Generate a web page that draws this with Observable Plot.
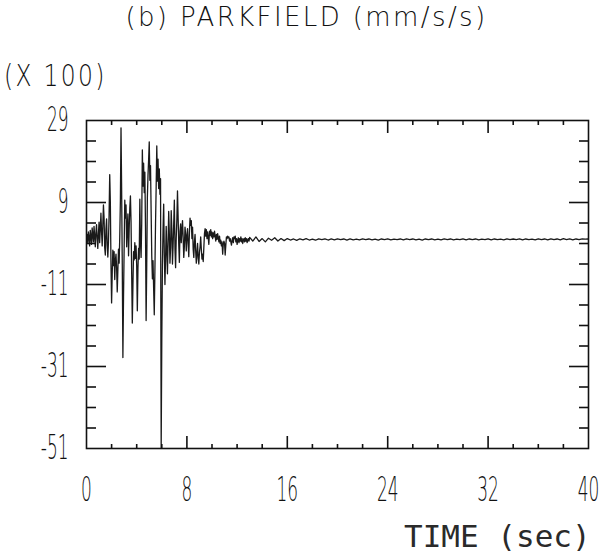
<!DOCTYPE html>
<html><head><meta charset="utf-8">
<script src="https://cdn.jsdelivr.net/npm/d3@7"></script>
<script src="https://cdn.jsdelivr.net/npm/@observablehq/plot@0.6"></script>
<style>
body{margin:0;background:#fff;}
#wrap{position:relative;width:613px;height:560px;overflow:hidden;background:#fff;}
#wrap svg{position:absolute;left:0;top:0;}
.t{position:absolute;white-space:nowrap;color:#111;}
#title{left:0;width:613px;text-align:center;top:2px;font:200 26px "DejaVu Sans";letter-spacing:2.4px;}
#unit{left:4px;top:58px;font:200 30px "DejaVu Sans";letter-spacing:3px;transform:scaleX(0.78);transform-origin:0 0;}
#xlab{left:404px;top:518px;font:400 31px "DejaVu Sans Mono";color:#2a2a2a;}
</style></head>
<body><div id="wrap">
<div class="t" id="title">(b) PARKFIELD (mm/s/s)</div>
<div class="t" id="unit">(X 100)</div>
<div class="t" id="xlab">TIME (sec)</div>
</div>
<script>
// acceleration (x 100 mm/s/s), sampled every 0.05 s from 0 to 12.95 s
const dt = 0.05;
const accelEarly = [
  0, 1.2, -0.8, 1.8, 0.4, -1.6, 2.2, 0.6, -1.2, 2.8, 1.0, -0.6, 3.2, 0.8, -1.8, 1.6, 3.6, 0.2, -2.2, 1.4,
  4.2, -0.8, 2.6, 6.4, 1.8, -1.6, 3.4, 8.4, 5.2, -2.0, -3.8, 2.4, 5.0, -1.4, -4.3, -0.6, 6.0, 15.8, 9.0, -6.0,
  -15.5, -8.2, -2.6, -6.4, -3.0, -9.8, -5.2, -3.6, -6.9, -12.8, -7.4, -2.4, -5.8, 0.6, 9.4, 27.2, 12.0, -6.0, -28.8, -14.0,
  -2.2, 9.6, 5.2, 8.4, -1.8, 3.0, 6.2, -4.0, 2.4, 7.6, 10.6, 4.2, -8.4, -20.4, -11.2, -3.0, -5.0, -0.8, -4.6, -1.6,
  -6.4, -17.4, -7.0, -2.2, -4.8, 9.8, -0.6, -4.4, 4.0, 21.8, 13.0, 18.6, 11.4, 16.4, 3.0, -19.8, -6.2, 10.2, 15.6, 19.4,
  23.8, 14.4, 18.0, 6.8, -4.0, -9.6, -5.2, -12.0, -18.4, -7.8, 3.8, 12.6, 22.8, 14.2, 19.6, 12.4, 17.2, 11.0, 14.8, -51,
  -24.0, -6.2, 2.4, 8.6, -3.6, -11.0, -4.8, 3.2, -2.6, -8.4, -1.0, 6.8, 1.4, -5.8, -2.0, 7.0, 2.6, -6.0, -1.6, 3.8,
  9.6, -2.4, -6.9, 0.4, 4.8, 11.8, 5.4, -1.2, -5.6, 2.0, 3.8, -0.8, 2.2, 4.6, 0.6, -4.4, -1.6, 3.0, 1.2, -2.8,
  0.8, 2.6, -1.0, -4.2, 1.6, 5.2, 3.4, 4.6, 0.2, 3.0, -2.4, -4.4, -0.6, 1.2, -2.8, -5.8, -3.4, -1.0, -4.6, -6.0,
  -3.2, -1.8, 0.6, -2.4, -4.8, -3.6, -5.4, -2.0, 1.4, 2.6, 0.8, 2.4, 0.2, 1.8, 0.4, -1.2, 2.0, 1.0, 2.4, 0.6,
  1.8, 0.2, 1.6, 0.6, 2.0, 0.8, -0.4, 1.2, 0.0, 1.4, 0.4, -0.6, 0.8, -1.0, -0.2, -1.6, -0.6, -3.6, -1.2, -0.4,
  -1.0, -3.8, -1.4, 0.6, 0.2, 0.8, 0.4, 0.6, -0.4, 0.2, -0.6, -1.4, -0.2, 0.4, -0.8, 0.6, 0.2, 0.8, -0.6, 0.2,
  -1.2, -0.2, 0.4, -0.8, 0.2, -0.4, 0.6, -0.6, 0.2, -1.0, -0.2, 0.2, -0.6, 0.4, -0.4, 0.2, -0.8, -0.2, 0.2, -0.4
];
// coda, sampled every 0.25 s from 13 to 40 s
const tailStart = 13;
const tailStep = 0.25;
const accelTail = [
  0.5, -0.4, 0.6, -0.5, 0.2, -0.6, 0.3, -0.2, 0.4, -0.4, 0.2, -0.3,
  0.2, -0.15, 0.1, -0.25, 0.15, -0.1, 0.2, -0.15, 0.05, -0.2, 0.15, -0.05,
  0.15, -0.15, 0.1, -0.1, 0.15, -0.05, 0.1, -0.15, 0.1, -0.1, 0.05, -0.1,
  0.15, -0.05, 0.1, -0.1, 0.05, -0.15, 0.1, -0.05, 0.15, -0.1, 0.05, -0.05,
  0.1, -0.1, 0.15, -0.05, 0.1, -0.1, 0.05, -0.15, 0.1, -0.05, 0.1, -0.1,
  0.05, -0.1, 0.15, -0.05, 0.1, -0.1, 0.05, -0.05, 0.15, -0.1, 0.1, -0.05,
  0.1, -0.1, 0.05, -0.05, 0.15, -0.1, 0.1, -0.05, 0.05, -0.1, 0.15, -0.05,
  0.1, -0.05, 0.15, -0.1, 0.1, -0.05, 0.05, -0.1, 0.15, -0.05, 0.1, -0.1,
  0.15, -0.05, 0.1, -0.1, 0.2, -0.05, 0.15, -0.1, 0.1, -0.05, 0.15, 0.05,
  0.1
];
const xLabels = [0, 8, 16, 24, 32, 40];
const xMajor = [8, 16, 24, 32];
const xMinor = [2, 4, 6, 10, 12, 14, 18, 20, 22, 26, 28, 30, 34, 36, 38];
const yLabels = [29, 9, -11, -31, -51];
const yMajor = [9, -11, -31];
const yMinor = [24, 19, 14, 4, -1, -6, -16, -21, -26, -36, -41, -46];

const records = [];
accelEarly.forEach((v, i) => records.push({t: i * dt, a: v}));
accelTail.forEach((v, i) => records.push({t: tailStart + i * tailStep, a: v}));

const blank = () => "";
const tk = {stroke: "#111", strokeWidth: 1.6, tickFormat: blank, label: null};
const chart = Plot.plot({
  width: 613, height: 560,
  marginLeft: 86, marginRight: 25, marginTop: 120, marginBottom: 112,
  x: {domain: [0, 40]},
  y: {domain: [-51, 29]},
  style: {background: "transparent", fontFamily: "DejaVu Sans", color: "#111"},
  marks: [
    Plot.line(records, {x: "t", y: "a", stroke: "#1a1a1a", strokeWidth: 1.3, clip: true}),
    Plot.axisX(xMinor, {anchor: "bottom", tickSize: 4, dy: -4, ...tk}),
    Plot.axisX(xMajor, {anchor: "bottom", tickSize: 12, dy: -12, ...tk}),
    Plot.axisX(xMinor, {anchor: "top", tickSize: 4, dy: 4, ...tk}),
    Plot.axisX(xMajor, {anchor: "top", tickSize: 12, dy: 12, ...tk}),
    Plot.axisY(yMinor, {anchor: "left", tickSize: 10, dx: 10, ...tk}),
    Plot.axisY(yMajor, {anchor: "left", tickSize: 20, dx: 20, ...tk}),
    Plot.axisY(yMinor, {anchor: "right", tickSize: 10, dx: -10, ...tk}),
    Plot.axisY(yMajor, {anchor: "right", tickSize: 20, dx: -20, ...tk}),
    Plot.axisX(xLabels, {anchor: "bottom", tickSize: 0, tickPadding: 28, fontSize: 34, fontWeight: 200, label: null, tickFormat: d => String(d)}),
    Plot.axisY(yLabels, {anchor: "left", tickSize: 0, tickPadding: 18, fontSize: 34, fontWeight: 200, label: null, tickFormat: d => String(d)}),
    Plot.frame({stroke: "#111", strokeWidth: 1.6})
  ]
});
chart.classList.add("chart");
document.getElementById("wrap").appendChild(chart);
// narrow the plotter-style tick digits
chart.querySelectorAll("g[aria-label='x-axis tick label'] text, g[aria-label='y-axis tick label'] text").forEach(el => {
  const tr = el.getAttribute("transform") || "";
  el.setAttribute("transform", tr + " scale(0.5,1)");
});
</script>
</body></html>
